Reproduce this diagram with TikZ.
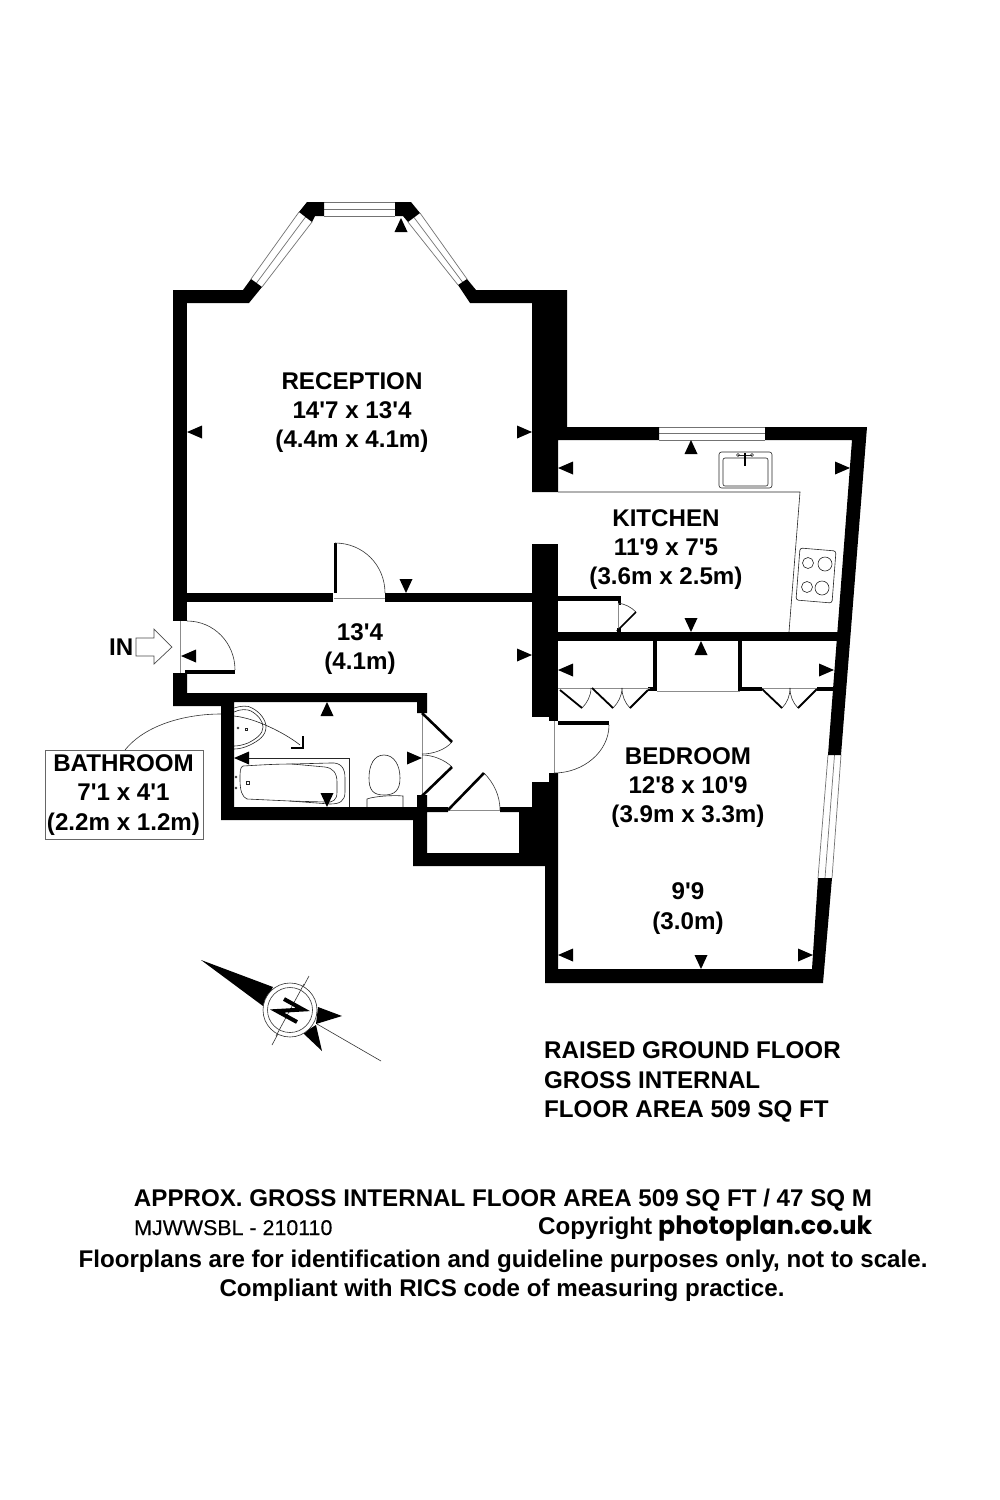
\documentclass[tikz,border=0pt]{standalone}
\usepackage{fontspec}
\setmainfont{Liberation Sans}
\newfontfamily\labelfont{Liberation Sans}
\newfontfamily\refont[FakeBold=0.25]{Liberation Sans}
\newfontfamily\logofont{Poppins}
\newcommand{\lbl}{\labelfont\bfseries\fontsize{24.15}{29.3}\selectfont}
\newcommand{\arrL}[2]{\fill[black] (#1,#2) -- (#1+15,#2-6.5) -- (#1+15,#2+6.5) -- cycle;}
\newcommand{\arrR}[2]{\fill[black] (#1,#2) -- (#1-15,#2-6.5) -- (#1-15,#2+6.5) -- cycle;}
\newcommand{\arrU}[2]{\fill[black] (#1,#2) -- (#1-6.5,#2+14) -- (#1+6.5,#2+14) -- cycle;}
\newcommand{\arrD}[2]{\fill[black] (#1,#2) -- (#1-6.5,#2-14) -- (#1+6.5,#2-14) -- cycle;}
\tikzset{
  x=1pt,y=-1pt,
  wall/.style={fill=black,draw=none},
  glass/.style={draw=black!55,line width=0.7pt},
  thin line/.style={draw=black!80,line width=0.6pt},
  jamb/.style={draw=black!45,line width=1pt},
  leaf/.style={draw=black,line width=2.6pt},
  fixture/.style={draw=black!85,line width=0.6pt},
  room/.style={font=\lbl,align=center,inner sep=0pt,text=black},
  plain text/.style={font=\lbl,inner sep=0pt,text=black},
}
\begin{document}
\begin{tikzpicture}
\useasboundingbox (0,0) rectangle (1000,1500);
\fill[white] (0,0) rectangle (1000,1500);

% windows
\foreach \y in {202,209,216} \draw[glass] (324,\y) -- (395,\y);
\draw[glass] (299,212) -- (251,279);
\draw[glass] (305.5,217) -- (256.5,283);
\draw[glass] (312,222) -- (262,287);
\draw[glass] (420,213) -- (467,279);
\draw[glass] (414,217.5) -- (462.5,282);
\draw[glass] (408,222) -- (458,285);
\foreach \y in {427,433,440} \draw[glass] (659,\y) -- (765,\y);
\draw[glass] (828,755) -- (818,878);
\draw[glass] (834.5,755) -- (825,878);
\draw[glass] (841,755) -- (832,878);

% walls
\fill[wall] (173,290) rectangle (187,621);
\fill[wall] (173,290) -- (243,290) -- (251,279) -- (262,287) -- (249,303) -- (173,303) -- cycle;
\fill[wall] (307,202) -- (324,202) -- (324,216) -- (315,216) -- (312,222) -- (299,212) -- cycle;
\fill[wall] (395,202) -- (411,202) -- (420,213) -- (408,222) -- (403,216) -- (395,216) -- cycle;
\fill[wall] (458,285) -- (467,279) -- (476,290) -- (567,290) -- (567,427) -- (659,427) -- (659,440) -- (558,440) -- (558,492) -- (532,492) -- (532,303) -- (470,303) -- cycle;
\fill[wall] (765,427) -- (867,427) -- (841,755) -- (828,755) -- (852,440) -- (765,440) -- cycle;
\fill[wall] (832,878) -- (823,983) -- (545,983) -- (545,866) -- (413,866) -- (413,820) -- (221,820) -- (221,706) -- (173,706) -- (173,673) -- (187,673) -- (187,693) -- (427,693) -- (427,713) -- (417,713) -- (417,702) -- (234,702) -- (234,807) -- (417,807) -- (417,795) -- (427,795) -- (427,807) -- (448,807) -- (448,812) -- (427,812) -- (427,853) -- (519,853) -- (519,812) -- (500,812) -- (500,807) -- (532,807) -- (532,782) -- (549,782) -- (549,773) -- (558,773) -- (558,969) -- (812,969) -- (818,878) -- cycle;
\fill[wall] (532,544) rectangle (558,717);
\fill[wall] (549,717) rectangle (558,721);
\fill[wall] (187,593) rectangle (333,602);
\fill[wall] (385,593) rectangle (532,602);
\fill[wall] (334,543) rectangle (337,593);
\fill[wall] (558,632) rectangle (842,641);
\fill[wall] (558,596) rectangle (621,601);
\fill[wall] (618,601) rectangle (621,605);
\fill[wall] (617,628) rectangle (621,632);
\fill[wall] (185,670) rectangle (235,673.5);
\fill[wall] (558,721) rectangle (609,725);
% cupboards
\fill[wall] (653,641) rectangle (657,691);
\fill[wall] (738,641) rectangle (742,691);
\fill[wall] (648,687) rectangle (657,691);
\fill[wall] (738,687) rectangle (762,691);
\fill[wall] (817,687) rectangle (834,691);

% door openings
\draw[jamb] (180,621) -- (180,673);
\draw[jamb] (334,598) -- (385,598);
\draw[jamb] (554,721) -- (554,773);
\draw[jamb] (422,713) -- (422,795);
\draw[jamb] (448,810) -- (500,810);
\draw[jamb] (618,603) -- (618,630);
\draw[jamb] (558,688) -- (650,688);
\draw[jamb] (657,691) -- (740,691);
\draw[jamb] (762,688) -- (817,688);

% door arcs
\draw[thin line] (187,621) .. controls (214,621) and (235,643) .. (235,670);
\draw[thin line] (335,543) .. controls (363,543) and (385,565) .. (385,593);
\draw[thin line] (609,725) .. controls (609,752) and (583,773) .. (554,773);
\draw[thin line] (452,742) .. controls (445,750) and (433,754) .. (422,754);
\draw[thin line] (422,755) .. controls (433,755) and (445,760) .. (452,767);
\draw[thin line] (484,773) .. controls (494,783) and (500,796) .. (500,810);
\draw[thin line] (618,603) .. controls (625,604) and (631,607) .. (636,612);
\draw[thin line] (582,708) .. controls (587,703) and (591,696) .. (591,688);
\draw[thin line] (613,708) .. controls (618,703) and (622,696) .. (622,688);
\draw[thin line] (622,688) .. controls (622,696) and (625,703) .. (630,708);
\draw[thin line] (782,708) .. controls (787,703) and (790,696) .. (790,688);
\draw[thin line] (790,688) .. controls (790,696) and (793,703) .. (798,708);

% door leaves
\draw[leaf] (422,713) -- (452,742);
\draw[leaf] (452,767) -- (422,796);
\draw[leaf] (448,810) -- (484,773);
\draw[leaf,line width=1.6pt] (617,631) -- (636,612);
\draw[leaf,line width=1.8pt] (560,690) -- (582,708);
\draw[leaf,line width=1.8pt] (592,688) -- (613,708);
\draw[leaf,line width=1.8pt] (630,708) -- (648,690);
\draw[leaf,line width=1.8pt] (762,689) -- (782,708);
\draw[leaf,line width=1.8pt] (798,708) -- (817,689);

% kitchen fittings
\draw[fixture] (558,492) -- (800,492) -- (789,632);
\draw[fixture,rounded corners=2.5pt] (719,452) rectangle (772,488);
\draw[fixture,rounded corners=2pt] (723,458) rectangle (768,486);
\draw[fixture] (738,455) -- (752,455);
\draw[fixture] (738,455) circle (1.5);
\draw[fixture] (752,455) circle (1.5);
\draw[black,line width=1.1pt] (745,453) -- (745,466);
\draw[fixture,rounded corners=2.5pt] (800,548) -- (836,551) -- (832,603) -- (796,600) -- cycle;
\draw[fixture] (808,563) circle (5.5);
\draw[fixture] (825,564) circle (7);
\draw[fixture] (807,587) circle (5.5);
\draw[fixture] (822,588) circle (7);

% bathroom fittings
\draw[fixture] (234,708) .. controls (240,706) and (248,705) .. (252,708) .. controls (260,712) and (266,720) .. (266,727) .. controls (266,736) and (258,741) .. (250,745) .. controls (244,748) and (238,749) .. (234,749);
\draw[fixture] (234,712) .. controls (240,709) and (247,709) .. (251,711) .. controls (258,715) and (263,721) .. (263,727) .. controls (263,734) and (256,739) .. (248,743) .. controls (243,745) and (238,746) .. (234,746);
\draw[fixture] (238,728) circle (1);
\draw[fixture] (245,728) rectangle (247.5,730);
\draw[fixture] (234,716) .. controls (255,718) and (285,733) .. (300,745);
\draw[black,line width=2pt] (303,736) -- (303,748) -- (291,748);
\draw[fixture] (249,758) -- (349,758) -- (349,807);
\draw[fixture] (243,766) .. controls (260,765) and (275,764) .. (292,764) -- (325,767) .. controls (333,768) and (337,773) .. (337,782) -- (337,792) .. controls (337,800) and (333,803) .. (325,802) -- (290,801) -- (247,799) .. controls (242,797) and (240,790) .. (240,780) .. controls (240,772) and (240,767) .. (243,766) -- cycle;
\draw[fixture] (292,764) -- (330,763) .. controls (341,762) and (345,768) .. (345,778) -- (345,792) .. controls (345,801) and (340,804) .. (330,804) -- (290,801);
\draw[fixture] (236,777) circle (1);
\draw[fixture] (236,788) circle (1);
\draw[fixture] (246,781) rectangle (249,784);
\draw[fixture] (384,755) .. controls (394,755) and (400,765) .. (400,778) .. controls (400,790) and (395,795) .. (384,795) .. controls (373,795) and (369,790) .. (369,778) .. controls (369,765) and (374,755) .. (384,755) -- cycle;
\draw[fixture] (367,807) -- (367,799) .. controls (375,796) and (395,795) .. (403,796) -- (403,807);

% measuring arrowheads
\arrL{187}{432} \arrR{532}{432}
\arrU{401}{218} \arrD{406}{593}
\arrL{181}{656} \arrR{532}{655}
\arrU{327}{702}
\arrL{234}{758} \arrR{422}{758} \arrD{327}{807}
\arrL{558}{468} \arrR{850}{468} \arrU{691}{440} \arrD{691}{632}
\arrU{701}{641} \arrL{558}{670} \arrR{834}{670}
\arrL{558}{955} \arrR{813}{955} \arrD{701}{969}

% entry arrow
\node[plain text,anchor=base west] (inlabel) at (109,655) {IN};
\draw[glass,draw=black!70] (136,638) -- (154,638) -- (154,629) -- (172,647) -- (154,664) -- (154,656) -- (136,656) -- cycle;

% room labels
\node[room] (reception) at (352,412.5) {RECEPTION\\14'7 x 13'4\\(4.4m x 4.1m)};
\node[room] (kitchen) at (666,549.5) {KITCHEN\\11'9 x 7'5\\(3.6m x 2.5m)};
\node[room] (hall) at (360,649) {13'4\\(4.1m)};
\node[room] (bedroom) at (688,787.5) {BEDROOM\\12'8 x 10'9\\(3.9m x 3.3m)};
\node[room] (bedroomb) at (688,908.5) {9'9\\(3.0m)};
\node[draw=black!60,line width=0.6pt,minimum width=158pt,minimum height=89pt,inner sep=0pt] (bathbox) at (124,794.5) {};
\node[room] (bathlabel) at (123.5,795) {BATHROOM\\7'1 x 4'1\\(2.2m x 1.2m)};
\coordinate (leaderA) at (125,750);
\coordinate (leaderB) at (221,714);
\draw[thin line] (leaderA) .. controls (145,725) and (185,714) .. (leaderB);

% compass
\fill[black] (201,960) -- (273,987) -- (263,1006) -- cycle;
\fill[black] (318,1007) -- (342,1016) -- (316,1024) -- cycle;
\fill[black] (316,1025) -- (322,1051) -- (303,1033) -- cycle;
\draw[thin line] (309,976) -- (272,1045);
\draw[thin line] (317,1024) -- (381,1061);
\draw[thin line,fill=white] (290,1010) circle (27);
\draw[thin line] (290,1010) circle (22.5);
\draw[thin line] (304,984) -- (276,1036);
\draw[black,line width=4pt,line join=miter] (284,999) -- (303,1009.5) -- (277,1011) -- (297,1022);

% captions
\node[plain text,anchor=base west] (floora) at (544,1058.5) {RAISED GROUND FLOOR};
\node[plain text,anchor=base west] (floorb) at (544,1088) {GROSS INTERNAL};
\node[plain text,anchor=base west] (floorc) at (544,1117) {FLOOR AREA 509 SQ FT};
\node[plain text,anchor=base] (total) at (503,1206) {APPROX. GROSS INTERNAL FLOOR AREA 509 SQ FT / 47 SQ M};
\node[anchor=base west,inner sep=0pt,font=\refont\fontsize{21.4}{25}\selectfont] (ref) at (134,1235) {MJWWSBL - 210110};
\node[plain text,anchor=base west] (copy) at (538,1234) {Copyright};
\node[anchor=base west,inner sep=0pt,font=\logofont\bfseries\fontsize{25.3}{29}\selectfont] (logo) at (658,1234) {photoplan.co.uk};
\node[plain text,anchor=base] (notea) at (503,1267.5) {Floorplans are for identification and guideline purposes only, not to scale.};
\node[plain text,anchor=base] (noteb) at (502,1296.5) {Compliant with RICS code of measuring practice.};
\end{tikzpicture}
\end{document}
